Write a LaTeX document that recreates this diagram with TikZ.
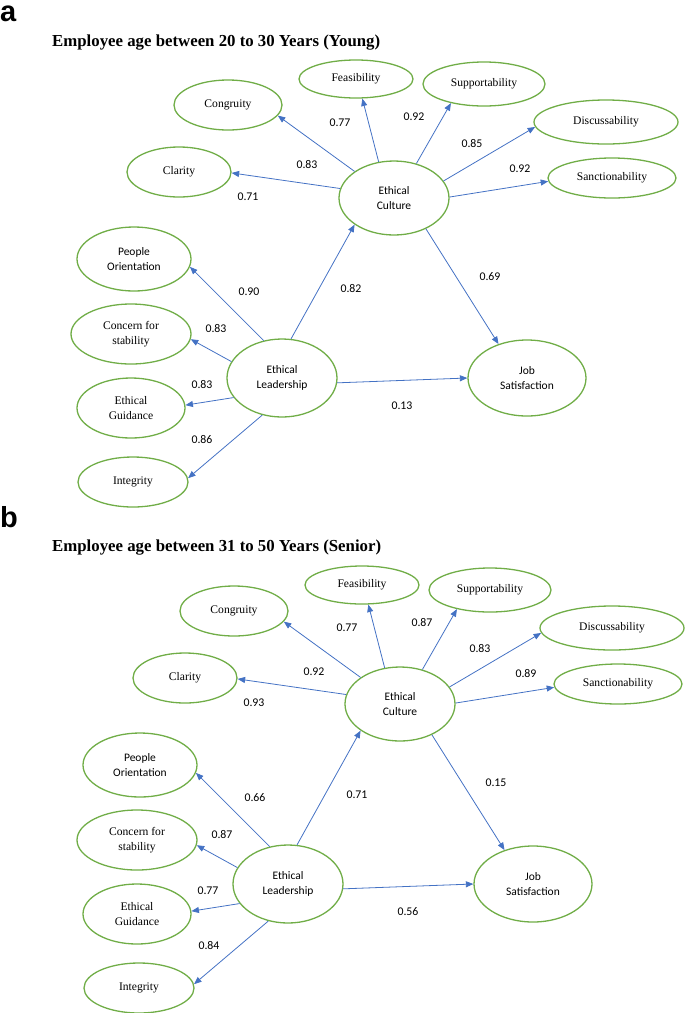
\documentclass[tikz,border=0pt]{standalone}
\usepackage{fontspec}
\setmainfont{Liberation Serif}
\newfontfamily\calib{Carlito}
\newfontfamily\arialb{Liberation Sans}
\usetikzlibrary{shapes.geometric,arrows.meta}
\definecolor{egreen}{HTML}{70AD47}
\definecolor{eblue}{HTML}{4472C4}
\tikzset{
  lat/.style={ellipse, draw=egreen, line width=1.3pt, inner sep=0pt, align=center},
  serifl/.style={font=\fontsize{11.6}{15.5}\selectfont},
  sansl/.style={font=\calib\fontsize{11.5}{15.5}\selectfont},
  conn/.style={draw=eblue, line width=0.8pt, -{Triangle[length=7.5pt,width=6pt]}},
  coef/.style={font=\calib\fontsize{11.8}{14}\selectfont, inner sep=0pt},
  ttl/.style={font=\bfseries\fontsize{16.8}{20}\selectfont, anchor=base west, inner sep=0pt},
  plab/.style={font=\arialb\bfseries\fontsize{29}{32}\selectfont, anchor=base west, inner sep=0pt, text height=16pt, text depth=0pt},
}
\newcommand\panelnodes{%
  \node[lat,serifl,minimum width=114pt,minimum height=38pt] (feas) at (356,79) {Feasibility};
  \node[lat,serifl,minimum width=122pt,minimum height=44pt] (supp) at (484,84) {Supportability};
  \node[lat,serifl,minimum width=108pt,minimum height=50pt] (cong) at (228,105) {Congruity};
  \node[lat,serifl,minimum width=144pt,minimum height=44pt] (disc) at (606,122) {Discussability};
  \node[lat,serifl,minimum width=104pt,minimum height=50pt] (clar) at (179,172) {Clarity};
  \node[lat,serifl,minimum width=128pt,minimum height=40pt] (sanc) at (612,178) {Sanctionability};
  \node[lat,sansl,minimum width=110pt,minimum height=74pt] (ec) at (394,198) {Ethical\\Culture};
  \node[lat,sansl,minimum width=114pt,minimum height=64pt] (po) at (134,259) {People\\Orientation};
  \node[lat,serifl,minimum width=120pt,minimum height=60pt] (conc) at (131,334) {Concern for\\stability};
  \node[lat,sansl,minimum width=110pt,minimum height=78pt] (el) at (282,378) {Ethical\\Leadership};
  \node[lat,serifl,minimum width=108pt,minimum height=60pt] (guid) at (131,408) {Ethical\\Guidance};
  \node[lat,serifl,minimum width=110pt,minimum height=50pt] (integ) at (133,482) {Integrity};
  \node[lat,sansl,minimum width=118pt,minimum height=76pt] (js) at (527,378) {Job\\Satisfaction};
  \draw[conn] (ec.146.7) -- (cong.-12.8);
  \draw[conn] (ec.113) -- (feas.-72.5);
  \draw[conn] (ec.57) -- (supp.-150);
  \draw[conn] (ec.19.5) -- (disc.-176);
  \draw[conn] (ec.1) -- (sanc.-177);
  \draw[conn] (ec.170.5) -- (clar.-1);
  \draw[conn] (el.77) -- (ec.-146.6);
  \draw[conn] (ec.-44) -- (js.130.5);
  \draw[conn] (el.-5) -- (js.west);
  \draw[conn] (el.116) -- (po.-8.4);
  \draw[conn] (el.162) -- (conc.-5);
  \draw[conn] (el.-158) -- (guid.3);
  \draw[conn] (el.-118) -- (integ.4);
}
\begin{document}
\begin{tikzpicture}[x=1pt,y=-1pt]
\useasboundingbox (0,0) rectangle (685,1013);
\node[plab] (la) at (0,21) {a};
\node[ttl] (ta) at (52,46) {Employee age between 20 to 30 Years (Young)};
\begin{scope}[name prefix=a-]
  \panelnodes
  \node[coef] (c1) at (340,123) {0.77};
  \node[coef] (c2) at (414,117) {0.92};
  \node[coef] (c3) at (307,165) {0.83};
  \node[coef] (c4) at (472,144) {0.85};
  \node[coef] (c5) at (520,169) {0.92};
  \node[coef] (c6) at (248,197) {0.71};
  \node[coef] (c7) at (249,292) {0.90};
  \node[coef] (c8) at (351,289) {0.82};
  \node[coef] (c9) at (490,277) {0.69};
  \node[coef] (c10) at (216,329) {0.83};
  \node[coef] (c11) at (202,385) {0.83};
  \node[coef] (c12) at (202,440) {0.86};
  \node[coef] (c13) at (402,406) {0.13};
\end{scope}
\node[plab] (lb) at (0,527) {b};
\node[ttl] (tb) at (52,551) {Employee age between 31 to 50 Years (Senior)};
\begin{scope}[shift={(6,506)},name prefix=b-]
  \panelnodes
  \node[coef] (c1) at (341,122) {0.77};
  \node[coef] (c2) at (416,117) {0.87};
  \node[coef] (c3) at (308,166) {0.92};
  \node[coef] (c4) at (474,143) {0.83};
  \node[coef] (c5) at (520,168) {0.89};
  \node[coef] (c6) at (248,197) {0.93};
  \node[coef] (c7) at (249,292) {0.66};
  \node[coef] (c8) at (351,289) {0.71};
  \node[coef] (c9) at (490,277) {0.15};
  \node[coef] (c10) at (216,329) {0.87};
  \node[coef] (c11) at (202,385) {0.77};
  \node[coef] (c12) at (203,440) {0.84};
  \node[coef] (c13) at (402,406) {0.56};
\end{scope}
\end{tikzpicture}
\end{document}
